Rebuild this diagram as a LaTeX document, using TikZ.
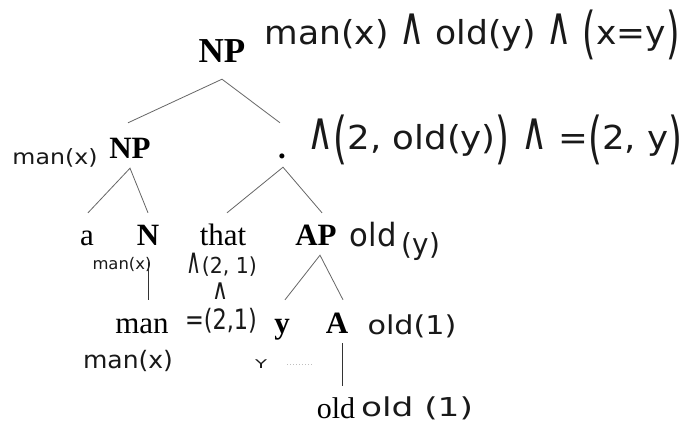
\documentclass[tikz,border=0pt]{standalone}
\usepackage{fontspec}
\usepackage{graphicx}
\usetikzlibrary{calc}
\setmainfont{Liberation Serif}
\newfontfamily\hwfont{DejaVu Sans}
\newcommand\hw[3]{\resizebox{#1}{\height}{\fontsize{#2}{#2}\selectfont\hwfont #3}}
\newcommand\bigp[1]{\raisebox{-0.25em}{\scalebox{1}[1.7]{#1}}}
\newcommand\tallwedge{\scalebox{1}[1.6]{∧}}
\begin{document}
\begin{tikzpicture}[x=1pt,y=-1pt,
  tree/.style={inner sep=0pt, anchor=base, font=\fontsize{31}{31}\selectfont, text height=20pt, text depth=6pt},
  treeb/.style={tree, font=\fontsize{31}{31}\selectfont\bfseries},
  hwn/.style={inner sep=0pt, anchor=center, text=black!90},
  branch/.style={black!60, line width=0.8pt},
  stem/.style={black!80, line width=0.9pt},
  faint/.style={black!25, dotted, line width=1pt}]
\fill[white] (0,0) rectangle (689,423);
\useasboundingbox (0,0) rectangle (689,423);
% tree labels
\node[treeb, font=\fontsize{35}{35}\selectfont\bfseries] (np0) at (222,62) {NP};
\node[treeb] (np1) at (130,158) {NP};
\node[treeb] (dot) at (282,158) {.};
\node[tree] (a) at (87,245) {a};
\node[treeb] (n) at (148,245) {N};
\node[tree] (that) at (223,245) {that};
\node[treeb] (ap) at (316,245) {AP};
\node[tree] (man) at (142,333) {man};
\node[treeb] (y) at (282,333) {y};
\node[treeb] (A) at (337,333) {A};
\node[tree, text depth=0pt, font=\fontsize{30}{30}\selectfont] (old) at (336,418) {old};
% branches
\draw[branch] ([xshift=-2pt,yshift=15pt]np1.north) -- ([yshift=-11pt]np0.south) -- ([xshift=-2pt,yshift=15pt]dot.north);
\draw[branch] ([xshift=1pt,yshift=12pt]a.north) -- ([yshift=-4pt]np1.south) -- ([yshift=12pt]n.north);
\draw[branch] ([xshift=4pt,yshift=12pt]that.north) -- ([xshift=1pt,yshift=-3pt]dot.south) -- ([xshift=6pt,yshift=12pt]ap.north);
\draw[branch] ([xshift=3pt,yshift=13pt]y.north) -- ([xshift=4pt,yshift=-4pt]ap.south) -- ([xshift=6pt,yshift=13pt]A.north);
\draw[stem] ([yshift=-11pt]n.south) -- ($(n.south |- man.north)+(0,-13)$);
\draw[stem] ([xshift=5pt,yshift=-4pt]A.south) -- ($(A.south |- old.north)+(5,-12)$);
% handwritten annotations
\node[hwn] (h0) at (472,35) {\hw{415pt}{33}{man(x) \tallwedge{} old(y) \tallwedge{} \bigp{(}x=y\bigp{)}}};
\node[hwn] (h1) at (55,158) {\hw{85pt}{21}{man(x)}};
\node[hwn] (h2) at (495,140) {\hw{375pt}{33}{\tallwedge\bigp{(}2, old(y)\bigp{)} \tallwedge{} =\bigp{(}2, y\bigp{)}}};
\node[hwn] (h3) at (122,264) {\hw{59pt}{16}{man(x)}};
\node[hwn] (h4) at (222,265) {\hw{70pt}{22}{\tallwedge(2, 1)}};
\node[hwn] (h5) at (220,291) {\hw{16pt}{18}{\tallwedge}};
\node[hwn] (h6) at (221,321) {\hw{72pt}{28}{=(2,1)}};
\node[hwn] (h7) at (395,241) {\hw{90pt}{32}{old\,\raisebox{-8pt}{\fontsize{29}{29}\selectfont(y)}}};
\node[hwn] (h8) at (412,326) {\hw{89pt}{26}{old(1)}};
\node[hwn] (h9) at (261,364) {\hw{12pt}{12}{Y}};
\node[hwn] (h10) at (128,361) {\hw{90pt}{24}{man(x)}};
\node[hwn] (h11) at (417,408) {\hw{112pt}{26}{old (1)}};
\draw[faint] ([xshift=20pt]h9.east) -- ([xshift=46pt]h9.east);
\end{tikzpicture}
\end{document}
